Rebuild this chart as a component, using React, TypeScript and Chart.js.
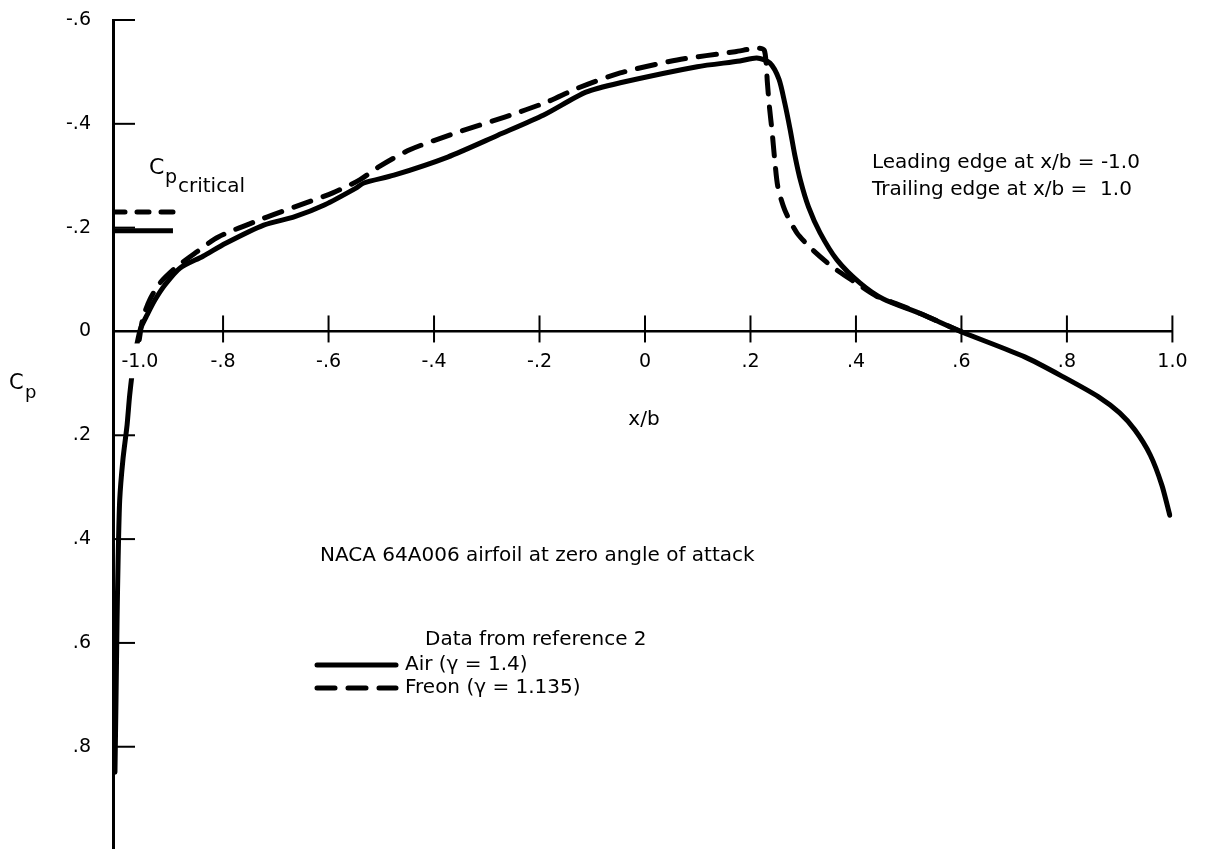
import React, { useEffect, useRef } from 'react';
import { Chart, registerables } from 'chart.js';

Chart.register(...registerables);

// ---- data (x/b, Cp) ----
const AIR_X = [-1.005, -1.003, -1.001, -0.999, -0.996, -0.99, -0.982, -0.977, -0.969, -0.961, -0.956, -0.944, -0.929, -0.91, -0.882, -0.838, -0.795, -0.723, -0.664, -0.607, -0.548, -0.533, -0.476, -0.374, -0.279, -0.192, -0.112, -0.047, 0.099, 0.18, 0.212, 0.237, 0.254, 0.265, 0.275, 0.284, 0.295, 0.31, 0.332, 0.364, 0.408, 0.451, 0.523, 0.601, 0.72, 0.794, 0.86, 0.9, 0.929, 0.958, 0.98, 0.995];
const AIR_CP = [0.849, 0.71, 0.556, 0.44, 0.325, 0.248, 0.18, 0.122, 0.055, 0.013, -0.007, -0.032, -0.061, -0.09, -0.122, -0.145, -0.17, -0.205, -0.221, -0.244, -0.276, -0.286, -0.301, -0.336, -0.378, -0.417, -0.461, -0.479, -0.51, -0.521, -0.527, -0.517, -0.486, -0.44, -0.39, -0.34, -0.29, -0.24, -0.19, -0.138, -0.093, -0.063, -0.034, 0.001, 0.049, 0.088, 0.126, 0.157, 0.19, 0.238, 0.296, 0.354];

const FREON_X = [-0.959, -0.952, -0.939, -0.92, -0.891, -0.853, -0.809, -0.723, -0.664, -0.592, -0.541, -0.505, -0.446, -0.36, -0.266, -0.186, -0.127, -0.047, 0.061, 0.171, 0.214, 0.226, 0.23, 0.232, 0.236, 0.241, 0.246, 0.252, 0.265, 0.288, 0.318, 0.356, 0.401, 0.439, 0.483, 0.523, 0.601];
const FREON_CP = [0.016, -0.026, -0.061, -0.093, -0.122, -0.151, -0.182, -0.218, -0.24, -0.267, -0.292, -0.317, -0.35, -0.382, -0.413, -0.442, -0.469, -0.498, -0.523, -0.539, -0.546, -0.542, -0.513, -0.48, -0.432, -0.385, -0.33, -0.278, -0.234, -0.19, -0.157, -0.124, -0.093, -0.068, -0.051, -0.034, 0.001];

const CRIT_AIR_X = [-1.0087, -0.895];
const CRIT_AIR_CP = [-0.194, -0.194];
const CRIT_FREON_X = [-1.0087, -0.8875];
const CRIT_FREON_CP = [-0.23, -0.23];

const X_TICKS = [-1.0, -0.8, -0.6, -0.4, -0.2, 0, 0.2, 0.4, 0.6, 0.8, 1.0];
const X_TICK_LABELS = ['\u2009-1.0', '-.8', '-.6', '-.4', '-.2', '0', '.2', '.4', '.6', '.8', '1.0'];
const Y_TICKS = [-0.6, -0.4, -0.2, 0, 0.2, 0.4, 0.6, 0.8];
const Y_TICK_LABELS = ['-.6', '-.4', '-.2', '0', '.2', '.4', '.6', '.8'];

const SERIES_LABELS = ['Air (\u03B3 = 1.4)', 'Freon (\u03B3 = 1.135)'];

const FONT = '"DejaVu Sans", "Liberation Sans", sans-serif';
const DASH = [18, 13];

const pts = (xs: number[], ys: number[]) => xs.map((x, i) => ({ x, y: ys[i] }));

const annotate = {
  id: 'annotate',
  afterDraw(chart: any) {
    const ctx: CanvasRenderingContext2D = chart.ctx;
    const xs = chart.scales.x;
    const ys = chart.scales.y;
    const area = chart.chartArea;
    ctx.save();
    ctx.strokeStyle = '#000';
    ctx.fillStyle = '#000';
    ctx.lineWidth = 2;
    const y0 = ys.getPixelForValue(0);
    X_TICKS.forEach((v) => {
      if (v === -1.0) return;
      const px = xs.getPixelForValue(v);
      ctx.beginPath();
      ctx.moveTo(px, y0 - 16);
      ctx.lineTo(px, y0 + 11);
      ctx.stroke();
    });
    Y_TICKS.forEach((v) => {
      if (v === 0) return;
      const py = ys.getPixelForValue(v);
      ctx.beginPath();
      ctx.moveTo(area.left, py);
      ctx.lineTo(area.left + 22, py);
      ctx.stroke();
    });

    const text = (s: string, x: number, y: number, size: number, align: CanvasTextAlign = 'left') => {
      ctx.font = `${size}px ${FONT}`;
      ctx.textAlign = align;
      ctx.textBaseline = 'middle';
      ctx.fillText(s, x, y);
    };

    // axis titles
    text('C', 9, 384, 21);
    text('p', 25, 393, 18);
    text('x/b', 644, 420, 20, 'center');

    // Cp critical
    text('C', 149, 168, 22);
    text('p', 165, 178, 19);
    text('critical', 178, 187, 20);

    // notes
    text('Leading edge at x/b = -1.0', 872, 163, 20);
    text('Trailing edge at x/b =  1.0', 872, 190, 20);
    text('NACA 64A006 airfoil at zero angle of attack', 320, 556, 20);
    text('Data from reference 2', 425, 640, 20);

    // legend
    const legendY = [665, 688];
    [0, 1].forEach((i) => {
      const ds = chart.data.datasets[i];
      ctx.save();
      ctx.lineWidth = ds.borderWidth;
      ctx.lineCap = 'round';
      ctx.setLineDash(ds.borderDash || []);
      ctx.beginPath();
      ctx.moveTo(317, legendY[i]);
      ctx.lineTo(396, legendY[i]);
      ctx.stroke();
      ctx.restore();
      text(ds.label, 405, legendY[i], 20);
    });
    ctx.restore();
  },
};

export default function App() {
  const ref = useRef<HTMLCanvasElement | null>(null);

  useEffect(() => {
    if (!ref.current) return;
    const chart = new Chart(ref.current, {
      type: 'line',
      data: {
        datasets: [
          {
            label: SERIES_LABELS[0],
            data: pts(AIR_X, AIR_CP),
            borderColor: '#000',
            borderWidth: 5,
            pointRadius: 0,
            tension: 0.25,
            fill: false,
            borderCapStyle: 'round',
            borderJoinStyle: 'round',
          },
          {
            label: SERIES_LABELS[1],
            data: pts(FREON_X, FREON_CP),
            borderColor: '#000',
            borderWidth: 5,
            borderDash: DASH,
            pointRadius: 0,
            tension: 0.25,
            fill: false,
            borderCapStyle: 'round',
            borderJoinStyle: 'round',
          },
          {
            label: 'Cp critical air',
            data: pts(CRIT_AIR_X, CRIT_AIR_CP),
            borderColor: '#000',
            borderWidth: 5,
            pointRadius: 0,
            fill: false,
            borderCapStyle: 'butt',
          },
          {
            label: 'Cp critical freon',
            data: pts(CRIT_FREON_X, CRIT_FREON_CP),
            borderColor: '#000',
            borderWidth: 5,
            borderDash: [12, 12],
            pointRadius: 0,
            fill: false,
            borderCapStyle: 'round',
          },
        ],
      },
      options: {
        animation: false,
        responsive: false,
        events: [],
        layout: { padding: { top: 20, right: 33.6, bottom: 0, left: 0 } },
        plugins: { legend: { display: false }, tooltip: { enabled: false }, title: { display: false } },
        scales: {
          x: {
            type: 'linear',
            min: -1.0087,
            max: 1.0,
            position: { y: 0 } as any,
            grid: { display: false, drawTicks: false, tickLength: 0 },
            border: { display: true, color: '#000', width: 2.5 },
            afterFit: (s: any) => {
              s.height = 0;
              s.paddingLeft = 0;
              s.paddingRight = 0;
              s.paddingTop = 0;
              s.paddingBottom = 0;
            },
            afterBuildTicks: (s: any) => {
              s.ticks = [...X_TICKS.map((v) => ({ value: v })), { value: 1.0 }];
            },
            ticks: {
              z: 1,
              autoSkip: false,
              maxRotation: 0,
              align: 'inner',
              padding: 19,
              color: '#000',
              font: { family: FONT, size: 19 },
              showLabelBackdrop: (c: any) => c.index === 0,
              backdropColor: '#fff',
              backdropPadding: { top: 7, bottom: 5, left: 1, right: 3 },
              callback: (_v: any, i: number) => X_TICK_LABELS[i] ?? '',
            },
          },
          y: {
            type: 'linear',
            reverse: true,
            min: -0.6,
            max: 0.997,
            position: 'left',
            grid: { display: false, drawTicks: false, tickLength: 0 },
            border: { display: true, color: '#000', width: 3 },
            afterFit: (s: any) => {
              s.width = 113;
              s.paddingTop = 0;
              s.paddingBottom = 0;
            },
            afterBuildTicks: (s: any) => {
              s.ticks = Y_TICKS.map((v) => ({ value: v }));
            },
            ticks: {
              autoSkip: false,
              padding: 22,
              color: '#000',
              font: { family: FONT, size: 19 },
              callback: (_v: any, i: number) => Y_TICK_LABELS[i] ?? '',
            },
          },
        },
      },
      plugins: [annotate],
    } as any);
    return () => chart.destroy();
  }, []);

  return (
    <div style={{ position: 'absolute', left: 0, top: 0, width: 1206, height: 849, background: '#fff' }}>
      <canvas ref={ref} width={1206} height={849} style={{ display: 'block' }} />
    </div>
  );
}
